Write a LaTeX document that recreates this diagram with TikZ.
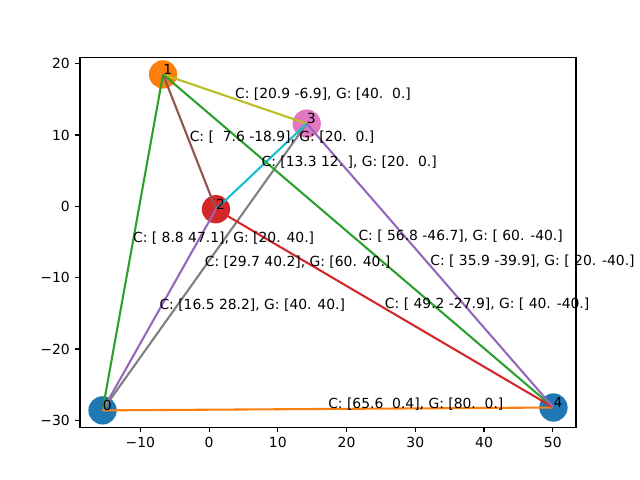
\documentclass[tikz,border=0pt]{standalone}
\usepackage{fontspec}
\setmainfont{DejaVu Sans}
\usetikzlibrary{calc}
\definecolor{tabblue}{HTML}{1F77B4}
\definecolor{taborange}{HTML}{FF7F0E}
\definecolor{tabgreen}{HTML}{2CA02C}
\definecolor{tabred}{HTML}{D62728}
\definecolor{tabpurple}{HTML}{9467BD}
\definecolor{tabbrown}{HTML}{8C564B}
\definecolor{tabpink}{HTML}{E377C2}
\definecolor{tabgray}{HTML}{7F7F7F}
\definecolor{tabolive}{HTML}{BCBD22}
\definecolor{tabcyan}{HTML}{17BECF}
\tikzset{
  vert/.style={circle, fill=#1, minimum size=20.4pt, inner sep=0pt, draw=none},
  edge/.style={line width=1.5pt, draw=#1},
  lab/.style={anchor=base west, inner sep=0pt, text=black},
  axisline/.style={line width=0.8pt, draw=black},
  xtick/.style={anchor=north, inner sep=0pt},
  ytick/.style={anchor=east, inner sep=0pt},
}
\begin{document}
\begin{tikzpicture}[x=0.72pt,y=0.72pt,font=\fontsize{10pt}{12pt}\selectfont]
\useasboundingbox (0,0) rectangle (640,480);
\begin{scope}[shift={(150.54pt,197.03pt)},x=4.949pt,y=5.1363pt]
% vertex positions
\coordinate (p0) at (-15.5,-28.6);
\coordinate (p1) at (-6.7,18.5);
\coordinate (p2) at (1.0,-0.4);
\coordinate (p3) at (14.2,11.6);
\coordinate (p4) at (50.1,-28.2);
% axes frame
\coordinate (ll) at (-18.78,-30.96);
\coordinate (ur) at (53.38,20.86);
% markers
\node[vert=tabblue] (c0) at (p0) {};
\node[vert=taborange] (c1) at (p1) {};
\node[vert=tabred] (c2) at (p2) {};
\node[vert=tabpink] (c3) at (p3) {};
\node[vert=tabblue] (c4) at (p4) {};
% edges
\draw[edge=tabgreen] (p0) -- (p1);
\draw[edge=tabpurple] (p0) -- (p2);
\draw[edge=tabbrown] (p1) -- (p2);
\draw[edge=tabgray] (p0) -- (p3);
\draw[edge=tabolive] (p1) -- (p3);
\draw[edge=tabcyan] (p2) -- (p3);
\draw[edge=taborange] (p0) -- (p4);
\draw[edge=tabgreen] (p1) -- (p4);
\draw[edge=tabred] (p2) -- (p4);
\draw[edge=tabpurple] (p3) -- (p4);
% vertex labels
\node[lab] (t0) at (p0) {0};
\node[lab] (t1) at (p1) {1};
\node[lab] (t2) at (p2) {2};
\node[lab] (t3) at (p3) {3};
\node[lab] (t4) at (p4) {4};
% edge labels
\node[lab] (e01) at ($(p0)!0.5!(p1)$) {C: [~8.8 47.1], G: [20. 40.]};
\node[lab] (e02) at ($(p0)!0.5!(p2)$) {C: [16.5 28.2], G: [40. 40.]};
\node[lab] (e12) at ($(p1)!0.5!(p2)$) {C: [~~7.6 -18.9], G: [20.~~0.]};
\node[lab] (e03) at ($(p0)!0.5!(p3)$) {C: [29.7 40.2], G: [60. 40.]};
\node[lab] (e13) at ($(p1)!0.5!(p3)$) {C: [20.9 -6.9], G: [40.~~0.]};
\node[lab] (e23) at ($(p2)!0.5!(p3)$) {C: [13.3 12.~], G: [20.~~0.]};
\node[lab] (e04) at ($(p0)!0.5!(p4)$) {C: [65.6~~0.4], G: [80.~~0.]};
\node[lab] (e14) at ($(p1)!0.5!(p4)$) {C: [~56.8 -46.7], G: [~60. -40.]};
\node[lab] (e24) at ($(p2)!0.5!(p4)$) {C: [~49.2 -27.9], G: [~40. -40.]};
\node[lab] (e34) at ($(p3)!0.5!(p4)$) {C: [~35.9 -39.9], G: [~20. -40.]};
% frame
\draw[axisline] (ll) rectangle (ur);
% x ticks
\foreach \v/\l in {-10/−10,0/0,10/10,20/20,30/30,40/40,50/50}{
  \draw[axisline] (\v,-30.96) -- ++(0,-3.5pt) node[xtick,yshift=-3.5pt] {\l};
}
% y ticks
\foreach \v/\l in {-30/−30,-20/−20,-10/−10,0/0,10/10,20/20}{
  \draw[axisline] (-18.78,\v) -- ++(-3.5pt,0) node[ytick,xshift=-3.5pt] {\l};
}
\end{scope}
\end{tikzpicture}
\end{document}
